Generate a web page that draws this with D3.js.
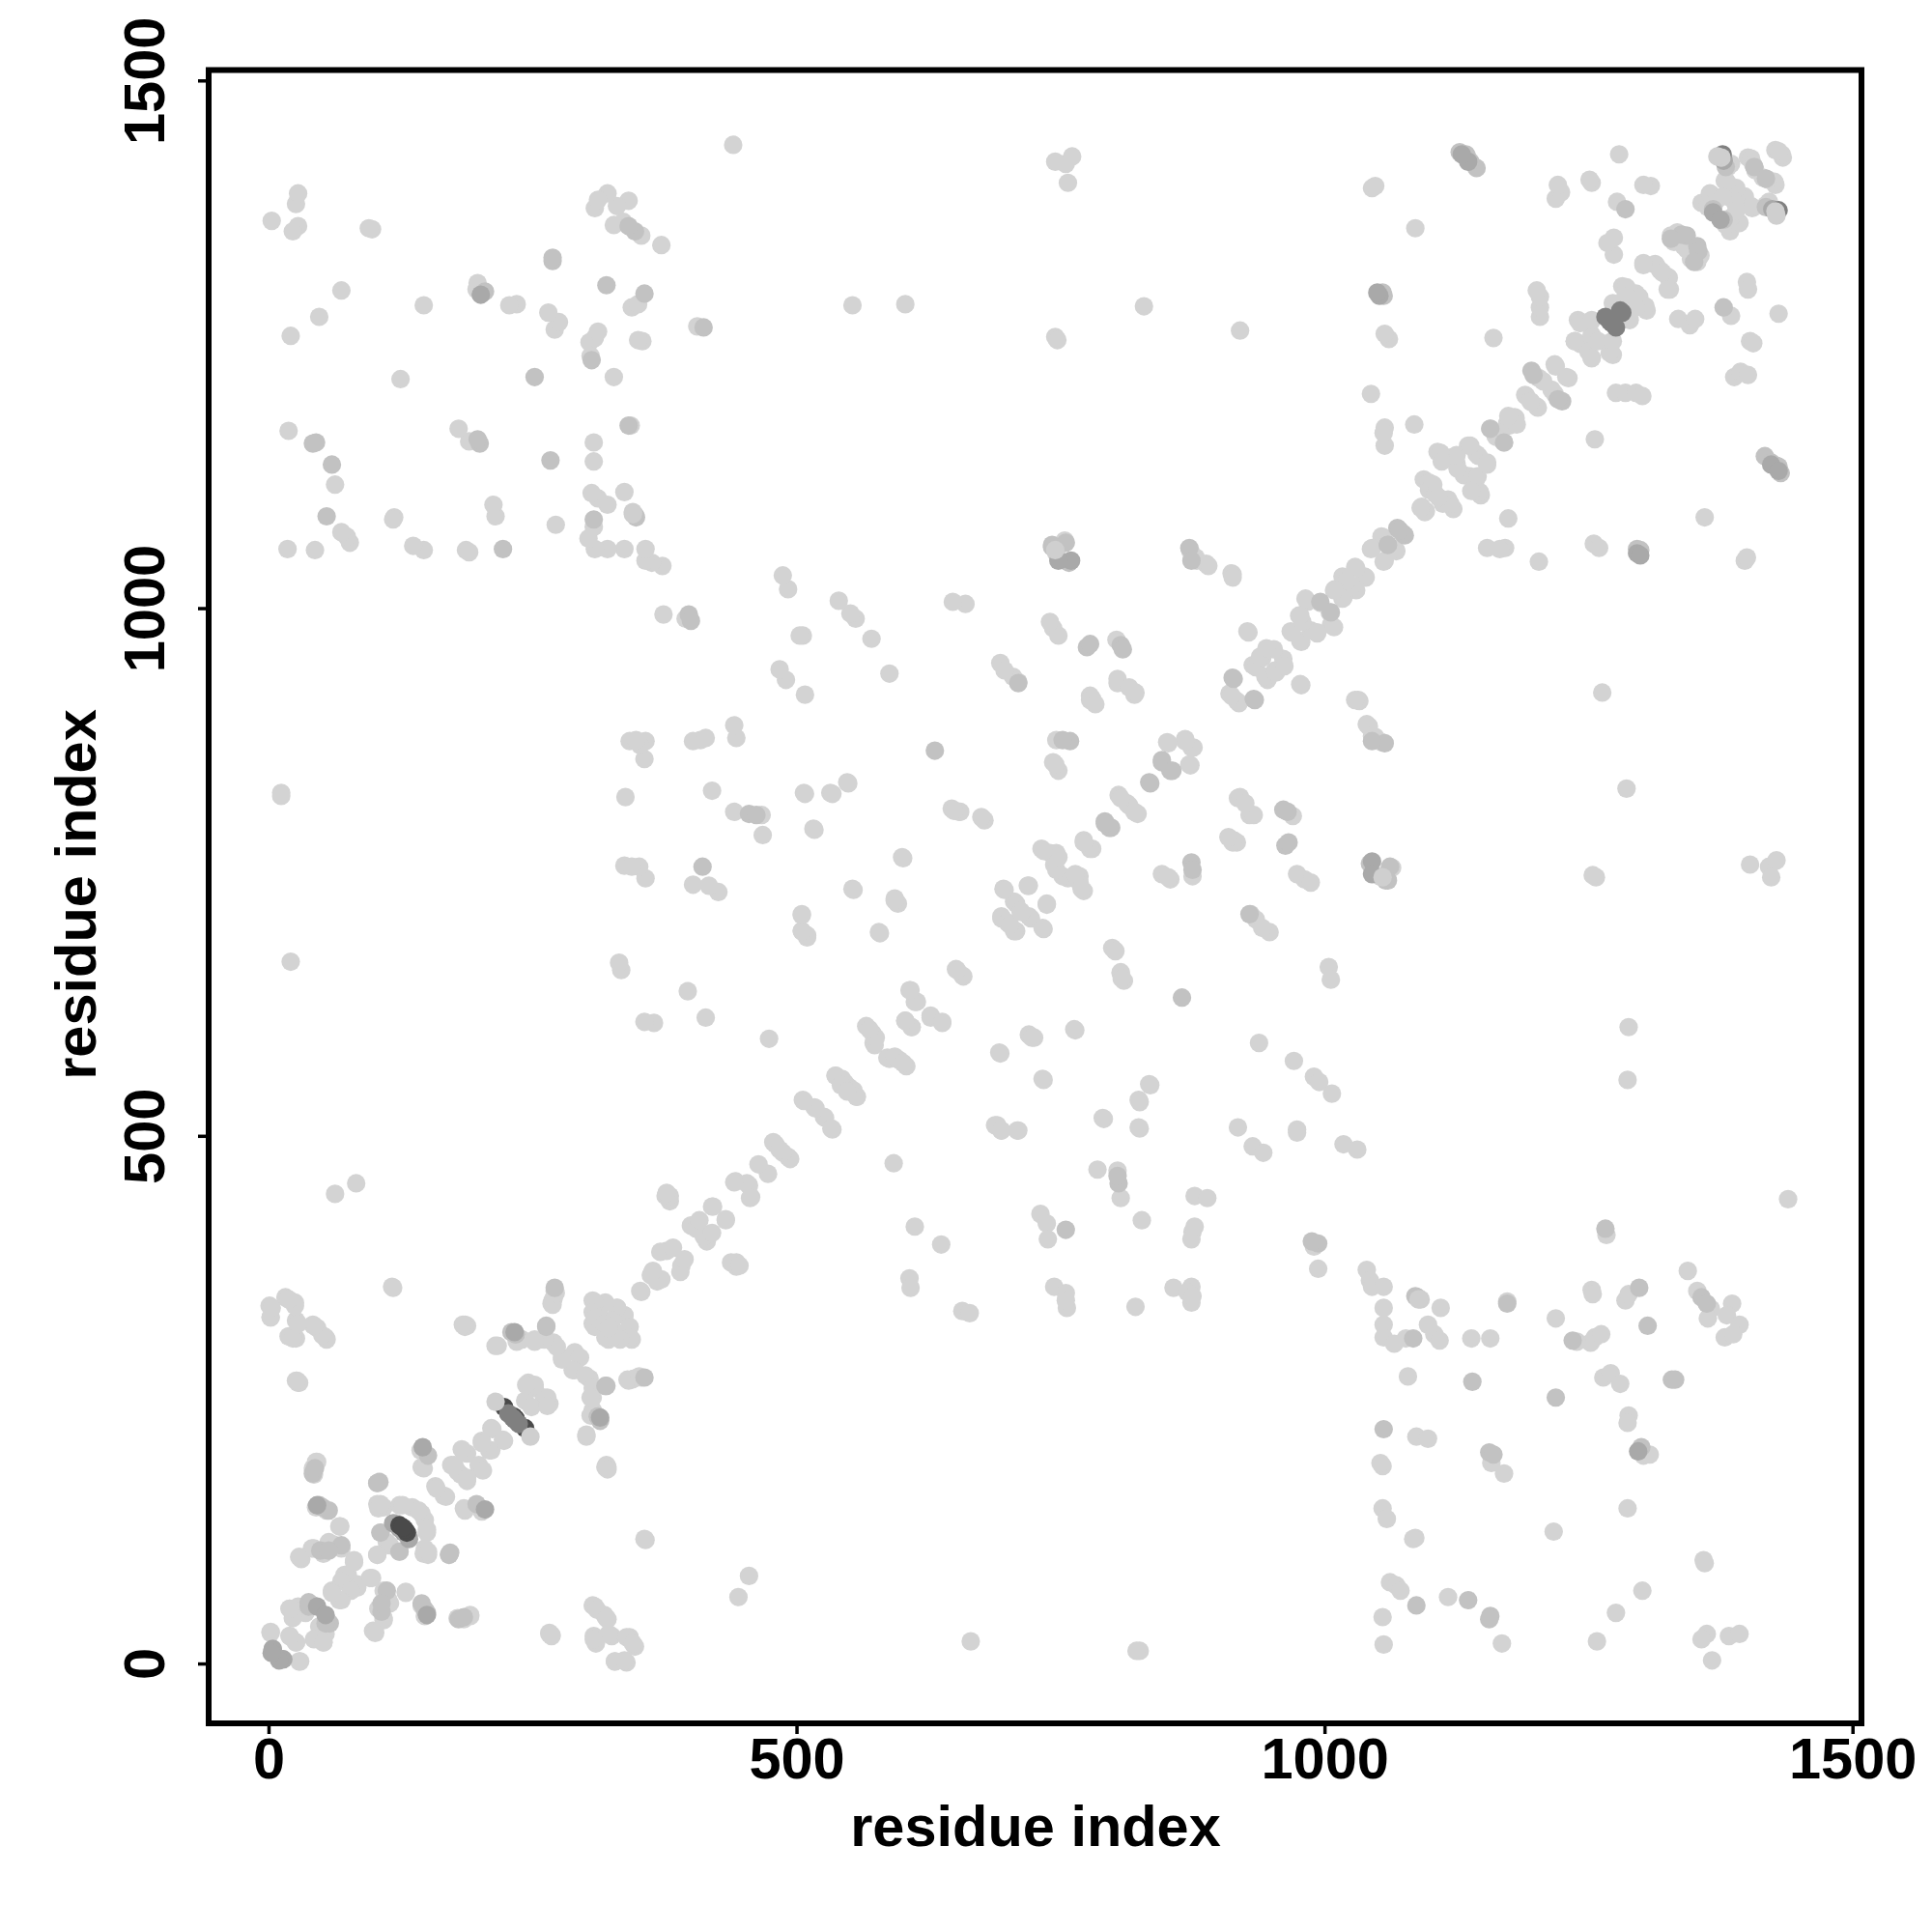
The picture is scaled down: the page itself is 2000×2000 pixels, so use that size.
<!DOCTYPE html>
<html><head><meta charset="utf-8">
<script src="https://cdn.jsdelivr.net/npm/d3@7"></script>
<style>html,body{margin:0;background:#fff}</style></head><body>
<svg id="c" width="2000" height="2000"></svg>
<script>
const xTicks=[0,500,1000,1500], yTicks=[0,500,1000,1500];
const xTitle="residue index", yTitle="residue index";
// contact pairs (residue i, residue j); the map is symmetric, so each pair gives two marks
const lightPairs=[
[994,374],[1040,373],[1043,363],[1045,357],[1056,357],[1056,337],[1056,321],[1056,309],[1066,303],[1077,308],[1110,337],[1098,321],[1104,312],[1109,306],[1139,308],[1157,308],[1173,343],[1219,327],[1239,305],[1252,304],[1256,309],[1262,312],[1253,354],[1254,350],[1285,344],[1288,350],[1344,372],[1353,353],[1366,336],[1363,327],[1386,341],[1381,330],[1393,321],[1379,309],[1387,312],
[1079,272],[1264,271],[1271,275],[1280,265],[1087,215],[1098,213],[1158,190],[1170,180],[1288,235],[1287,228],[1302,197],[1308,198],[1055,187],[1053,190],[1055,147],[1059,137],[1086,119],[1084,118],[1287,147],[1217,125],[1359,98],[1360,95],[1062,77],[1068,74],[1072,69],[1117,63],[1055,44],[1056,18],[1168,19],[1258,21],[1276,48],[1301,69],[1362,28],[1357,23],[1383,26],[1393,28],[1367,3],
[455,83],[445,63],[665,21],[825,12],[822,12],[607,365],[608,356],[657,334],[664,332],[744,357],[755,351],[756,337],[755,344],[821,338],[857,356],[874,357],[870,352],[874,342],[443,376],[438,380],
[117,357],[1,339],[2,328],[16,347],[25,342],[26,325],[42,321],[46,318],[54,309],[19,310],[26,308],[28,266],[26,268],[186,321],[188,320],[215,301],[240,307],[252,307],[270,304],[278,290],[290,295],[288,278],[300,273],[307,261],[271,353],[269,344],[268,341],[307,344],[317,341],[307,322],[313,331],[330,337],[337,330],[342,319],[342,309],[319,309],[307,333],[328,310],[325,325],[318,322],[346,270],[340,269],[351,272],[305,252],[301,217],[305,235],[319,186],[321,184],[356,118],[307,55],[311,51],[320,43],[322,28],[308,23],[339,25],[345,19],[328,2],[337,3],[266,29],[268,27],[191,46],[179,43],[185,42],[130,68],[113,61],[109,69],[104,52],[109,41],[99,31],
[246,266],[252,261],[264,252],[243,249],[264,244],[223,211],[212,222],[202,211],[209,202],[200,185],[188,199],[183,203],[173,188],[179,182],[188,176],[150,197],[145,186],[45,191],[103,171],[158,168],[166,159],[185,147],[202,144],[45,148],[55,145],[67,130],[103,151],[109,148],[124,150],[136,148],[145,142],[150,127],[106,124],[112,115],[133,121],[147,104],[151,106],[29,101],[43,109],[57,115],[103,103],[81,96],[75,84],[84,72],[98,81],[69,78],[60,69],[67,60],[20,52],[28,51],[35,48],[55,40],[54,28],[20,26],[26,20],[2,30],[43,23],[52,20],[29,2],
[353,352],[362,368],[372,364],[391,377],[371,390],[383,394],[414,403],[400,415],[405,412],[433,420],[421,433],[442,457],[455,453],[456,441],[473,464],[480,492],[494,478],[380,443],[377,446],[420,408],[487,484],
[507,825],[532,825],[548,835],[516,791],[647,810],[654,807],[676,801],[805,823],[813,815],[820,807],[772,780],[778,772],[732,772],[740,768],[746,768],[744,757],[752,746],[764,748],[770,734],[719,737],[696,734],[706,722],[737,720],[694,708],[706,694],[720,708],[733,697],[700,702],[712,713],[600,764],[553,734],[593,725],[596,720],[578,693],[505,710],[510,690],[505,694],[846,748],[854,743],[875,746],[918,820],[929,804],[914,780],[917,778],[799,678],[802,675],[807,655],[808,649],[651,658],[657,652],[607,638],[612,627],[603,609],[609,603],[627,614],[638,608],[566,604],[572,597],[573,588],[586,574],[593,575],[601,569],[537,557],[546,550],[554,543],[557,537],[542,548],[506,534],[517,527],[526,518],[533,507],[721,595],[723,593],[692,579],[763,601],[733,554],[834,549],[824,534],[790,517],[824,508],[688,510],[694,505],[709,505],[918,508],[932,490],[785,468],[804,467],[807,441],[827,420],[877,443],[889,441],[875,409],[874,402],[877,414],[612,414],[637,397],[731,426],[737,417],[738,402],[592,474],
[878,1048],[888,1042],[912,1033],[1174,1085],[1154,1057],[1171,1057],[1166,1056],[1203,1044],[1255,1061],[1260,1057],[1054,1068],[1045,1057],[1067,1056],[1056,1044],[1029,1039],[1038,1030],[1017,1030],[1026,1021],[1010,1018],[1017,1009],[1005,996],[1006,984],[982,1009],[976,993],[968,978],[977,969],[987,979],[993,977],[927,978],[947,961],[961,952],[932,946],[944,935],[953,941],[939,954],[962,945],[977,928],[910,919],[917,912],[1032,913],[1029,913],[1040,890],[1045,879],[1054,873],[1263,920],[1286,829],[851,873],[868,876],[874,868],[872,852],[920,821],[933,804],[925,815],[970,803],[913,778],[909,783],[852,745],[1052,746],[1257,745],[1254,747],[981,743],[974,748],[987,740],[930,710],[935,705],[948,693],[941,697],[1004,660],[1006,648],[1064,754],[1403,757],[1421,755],[1428,761],[1423,745],[1288,603],[1287,553],[938,588],[971,571],[990,556],[995,551],[1007,540],[974,506],[974,503],[942,484],[1018,492],[1031,487],[1439,440],[1267,406],[990,395],[875,348],
[1360,1086],[1398,1045],[1400,1048],[1256,1160],[1276,1204],[1285,1204],[1295,1204],[1301,1201],[1335,1274],[1346,1268],[1351,1274],[1403,1253],[1406,1251],[1388,1219],[1394,1224],[1401,1221],[1430,1279],[1385,1277],[1400,1309],[1401,1302],[1107,1148],[1121,1143],[1125,1137],[1132,1126],[1145,1125],[1136,1154],[1144,1146],[1154,1138],[1147,1110],[1139,1111],[1094,1122],[1103,1117],[1092,1096],[1095,1091],[1119,1099],[1112,1099],[1105,1108],[1170,1157],[1162,1163],[1180,1181],[1173,1175],[1182,1174],[1191,1201],[1202,1190],[1196,1195],[1203,1218],[1215,1207],[1218,1231],[1229,1219],[1240,1273],[1252,1271],[1237,1253],[1243,1250],[1253,1237],[1253,1259],[1270,1242],[1273,1253],[1273,1289],[1282,1305],[1295,1298],[1304,1286],[1285,1295],[1302,1327],[1313,1326],[1325,1314],[1325,1302],[1318,1320],[1328,1353],[1334,1356],[1350,1329],[1331,1347],[1343,1340],[1357,1384],[1365,1393],[1380,1363],[1392,1366],[1385,1370],[1385,1421],[1401,1427],[1415,1408],[1426,1404],[1420,1406],[1427,1434],[1433,1430],[1418,1382],[1379,1405],[1386,1396],[1398,1390],[1404,1381],[1389,1384],[1377,1390]
];
const midPairs=[
[1084,308],[1235,306],[1088,347],[1086,348],[1173,341],[1357,347],[1362,341],[1298,356],[1306,320],[1156,200],[1160,198],[1300,205],[1329,269],[1332,269],[1056,222],[1157,45],[1156,42],[1140,267],[1219,252],[1087,55],[1136,60],[994,398],
[271,356],[234,312],[230,314],[263,320],[319,263],[312,234],[148,51],[150,48],[145,57],[42,180],[44,185],[105,172],[197,151],[171,103],[124,106],[69,112],[49,107],[57,107],[42,55],[38,58],[54,38],
[834,835],[792,798],[796,792],[865,631],[874,759],[875,752],[755,411],[805,455],[804,462],[929,710],[1043,758],[1062,755],[872,1057],[874,1045],[1069,1076],[1074,1071],[1060,1060],[996,1006],[913,934],[933,914],[854,846],[846,856],[965,807],[961,809],[963,775],[966,778],[1058,742],[1060,742],[1296,1056],[1299,1055],[988,400],[1266,412],[1417,1144],[1423,1138],[1430,1134],[1428,1135],[1432,1128],[1157,1170],[1196,1225],[1221,1198],[1343,1353],[1354,1338],[1328,1350],[1368,1378],[1407,1418],[1418,1380],[1378,1285]
];
const darkPairs=[
[1297,201],[1045,760],[1045,748],[1296,1052],[1299,1050],[1423,1136],[1430,1130],[1368,1375],[146,205],[46,150],[118,133],[128,124],[4,14],[13,4],[10,3],[1424,1378],[1428,1374],[46,54],[233,314]
];
const deepPairs=[
[1266,1276],[1270,1272],[1377,1430],[1282,1280],[227,237],[233,231]
];
const blackPairs=[
[124,131],[129,127],[243,223],[234,232]
];
const capPairs=[
[1091,345],[1089,345],[1055,745],[1427,1376],[1372,1428],[248,215]
];
const x=d3.scaleLinear().domain([-56.7,1508.5]).range([216,1927]);
const y=d3.scaleLinear().domain([-56.7,1508.5]).range([1784,74]);
const svg=d3.select("#c");
const font="'Liberation Sans',Arial,sans-serif";
function marks(pairs,fill){
  const g=svg.append("g").attr("fill",fill);
  pairs.forEach(([i,j])=>{
    g.append("circle").attr("cx",x(i)).attr("cy",y(j)).attr("r",9.6);
    g.append("circle").attr("cx",x(j)).attr("cy",y(i)).attr("r",9.6);
  });
}
marks(lightPairs,"#d3d3d3");
marks(midPairs,"#c2c2c2");
marks(darkPairs,"#a9a9a9");
marks(blackPairs,"#4a4a4a");
marks(deepPairs,"#808080");
marks(capPairs,"#cfcfcf");
svg.append("rect").attr("x",216).attr("y",72.5).attr("width",1711).attr("height",1711.5)
  .attr("fill","none").attr("stroke","#000").attr("stroke-width",6);
const fmt=d3.format("d");
const ax=svg.append("g").attr("transform","translate(0,1784)")
  .call(d3.axisBottom(x).tickValues(xTicks).tickFormat(fmt).tickSize(11).tickPadding(18));
const ay=svg.append("g").attr("transform","translate(216,0)")
  .call(d3.axisLeft(y).tickValues(yTicks).tickFormat(fmt).tickSize(11).tickPadding(0));
[ax,ay].forEach(a=>{a.select(".domain").remove();
  a.selectAll(".tick line").attr("stroke","#000").attr("stroke-width",3.5);
  a.selectAll("text").attr("fill","#000").style("font-family",font).style("font-weight","bold").style("font-size","59.5px");});
ay.selectAll(".tick text").attr("x",0).attr("y",0).attr("dy",0)
  .attr("text-anchor","middle").attr("transform","translate(-46,0) rotate(-90)");
ax.selectAll(".tick text").attr("dy",0).attr("y",57);
svg.append("text").text(xTitle).attr("x",1072).attr("y",1911).attr("text-anchor","middle")
  .style("font-family",font).style("font-weight","bold").style("font-size","59.5px");
svg.append("text").text(yTitle).attr("transform","translate(99,926) rotate(-90)").attr("text-anchor","middle")
  .style("font-family",font).style("font-weight","bold").style("font-size","59.5px");
</script></body></html>
